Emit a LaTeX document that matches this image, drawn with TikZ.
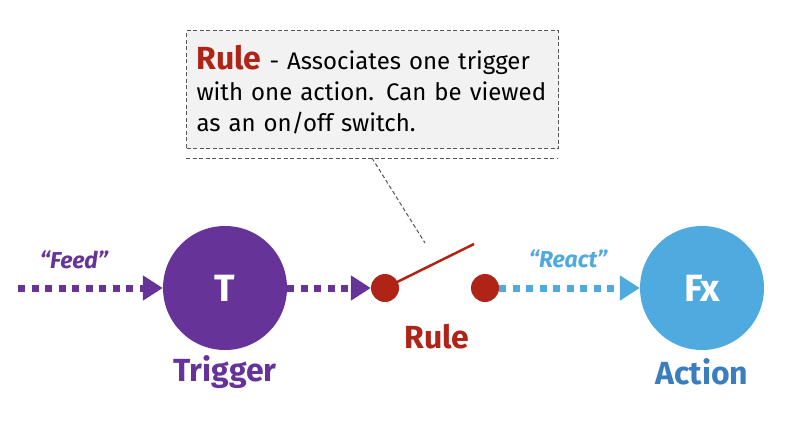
\documentclass[tikz,border=0pt]{standalone}
\usepackage{fontspec}
\setmainfont{Fira Sans}
\usetikzlibrary{arrows.meta}
\definecolor{trigpurple}{HTML}{663399}
\definecolor{rulered}{HTML}{B02418}
\definecolor{actblue}{HTML}{4FAADF}
\definecolor{acttext}{HTML}{3B7EC0}
\definecolor{boxfill}{HTML}{F2F2F2}
\definecolor{dashgray}{HTML}{555555}
\begin{document}
\begin{tikzpicture}[x=1pt,y=-1pt,
  bigcircle/.style={circle, minimum size=124pt, inner sep=0pt},
  ruledot/.style={circle, fill=rulered, minimum size=28pt, inner sep=0pt},
  dotarrow/.style={line width=7pt, dash pattern=on 7pt off 6.5pt, -{Triangle[length=20pt,width=24pt]}},
  callline/.style={draw=dashgray, line width=1pt, dash pattern=on 4pt off 2.5pt},
  circtext/.style={font=\fontsize{38}{40}\selectfont\bfseries, text=white},
  biglabel/.style={font=\fontsize{32}{34}\selectfont\bfseries},
  arrowlabel/.style={font=\fontsize{23}{25}\selectfont\bfseries\itshape}
]
\useasboundingbox (0,0) rectangle (800,429);

% callout box
\node[callline, fill=boxfill, anchor=north west, minimum width=372pt, minimum height=118pt,
      text width=352pt, inner sep=10pt, align=left,
      font=\fontsize{24}{31}\selectfont] (callout) at (186,30)
  {{\color{rulered}\fontsize{32}{30}\selectfont\bfseries Rule} - Associates one trigger with one action. Can be viewed as an on/off switch.};

\coordinate (sepL) at (186,158);
\coordinate (sepR) at (558,158);
\coordinate (ptrA) at (372,158);
\coordinate (ptrB) at (425,243);
\draw[callline] (sepL) -- (sepR);
\draw[callline] (ptrA) -- (ptrB);

% trigger
\node[bigcircle, fill=trigpurple] (trig) at (225,288) {};
\node[circtext] (tlabel) at (225,288) {T};
\node[biglabel, text=trigpurple] (trigname) at (225,372) {Trigger};

% action
\node[bigcircle, fill=actblue] (act) at (702,288) {};
\node[circtext] (fxlabel) at (702,288) {Fx};
\node[biglabel, text=acttext] (actname) at (702,372) {Action};

% rule switch
\node[ruledot] (ldot) at (385,288) {};
\node[ruledot] (rdot) at (485,288) {};
\coordinate (levertip) at (474,244);
\draw[rulered, line width=2.5pt] (ldot.center) -- (levertip);
\node[biglabel, text=rulered] (rulename) at (437,337) {Rule};

% arrows
\coordinate (feedstart) at (18,288);
\draw[dotarrow, trigpurple] (feedstart) -- (trig.west);
\draw[dotarrow, trigpurple] (trig.east) -- (ldot.west);
\draw[dotarrow, actblue] (rdot.east) -- (act.west);

\node[arrowlabel, text=trigpurple] (feedlabel) at (74,260) {“Feed”};
\node[arrowlabel, text=actblue] (reactlabel) at (568,259) {“React”};
\end{tikzpicture}
\end{document}
